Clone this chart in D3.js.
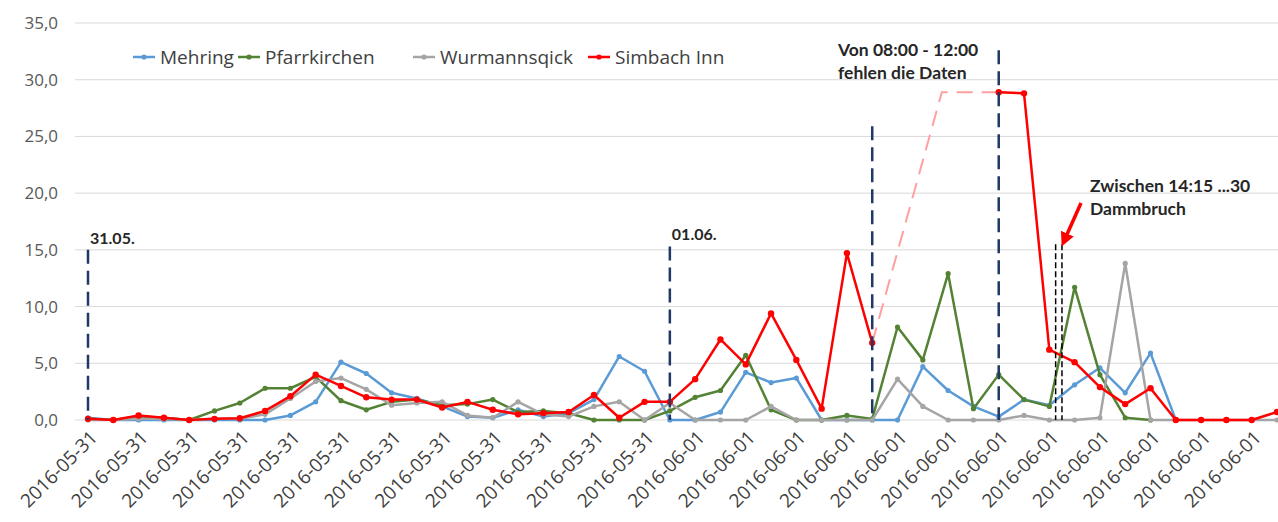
<!DOCTYPE html>
<html>
<head>
<meta charset="utf-8">
<script src="https://cdn.jsdelivr.net/npm/d3@7"></script>
<style>
  body { margin: 0; background: #fff; }
  svg text { font-family: "Open Sans", Lato, sans-serif; }
</style>
</head>
<body>
<div id="chart"></div>
<script>
// hourly values, 31.05. 00:00 ... 01.06. 23:00
var dates = d3.range(48).map(function(i){ return i < 24 ? '2016-05-31' : '2016-06-01'; });
var yTicks = [0, 5, 10, 15, 20, 25, 30, 35];

var mehring = [0.2, 0.0, 0.0, 0.0, 0.0, 0.0, 0.0, 0.0, 0.4, 1.6, 5.1, 4.1, 2.4, 1.9, 1.2, 0.3,
               0.2, 0.9, 0.3, 0.6, 1.8, 5.6, 4.3, 0.0, 0.0, 0.7, 4.2, 3.3, 3.7, 0.0, 0.0, 0.0,
               0.0, 4.7, 2.6, 1.2, 0.3, 1.8, 1.3, 3.1, 4.6, 2.4, 5.9, 0.0, null, null, null, null];
var pfarrkirchen = [0.1, 0.0, 0.3, 0.2, 0.0, 0.8, 1.5, 2.8, 2.8, 3.8, 1.7, 0.9, 1.6, 1.8, 1.3, 1.4,
               1.8, 0.7, 0.8, 0.6, 0.0, 0.0, 0.0, 0.8, 2.0, 2.6, 5.7, 0.9, 0.0, 0.0, 0.4, 0.1,
               8.2, 5.3, 12.9, 1.0, 4.0, 1.8, 1.2, 11.7, 4.0, 0.2, 0.0, null, null, null, null, null];
var wurmannsqick = [0.0, 0.0, 0.1, 0.1, 0.0, 0.1, 0.1, 0.5, 1.9, 3.4, 3.7, 2.7, 1.3, 1.5, 1.6, 0.4,
               0.2, 1.6, 0.5, 0.3, 1.2, 1.6, 0.0, 1.5, 0.0, 0.0, 0.0, 1.2, 0.0, 0.0, 0.0, 0.0,
               3.6, 1.2, 0.0, 0.0, 0.0, 0.4, 0.0, 0.0, 0.2, 13.8, 0.0, 0.0, 0.0, 0.0, 0.0, 0.0];
var simbach = [0.1, 0.0, 0.4, 0.2, 0.0, 0.1, 0.15, 0.8, 2.1, 4.0, 3.0, 2.0, 1.8, 1.8, 1.1, 1.6,
               0.9, 0.5, 0.6, 0.7, 2.2, 0.2, 1.6, 1.6, 3.6, 7.1, 4.9, 9.4, 5.3, 1.0, 14.7, 6.8,
               null, null, null, null, 28.9, 28.8, 6.2, 5.1, 2.9, 1.4, 2.8, 0.0, 0.0, 0.0, 0.0, 0.7];

var seriesNames = ['Mehring', 'Pfarrkirchen', 'Wurmannsqick', 'Simbach Inn'];
var seriesColors = ['#5b9bd5', '#548235', '#a5a5a5', '#ff0000'];

// annotations (x in hour index, y in value)
var missingLine = [[31, 6.8], [33.75, 28.9], [36, 28.9]];
var markers = [
  {x: 0, top: 15.0, label: '31.05.'},
  {x: 23, top: 15.3, label: '01.06.'},
  {x: 31, top: 25.9, label: null},
  {x: 36, top: 32.6, label: null}
];
var breachLines = [38.25, 38.5];

var width = 1278, height = 522,
    margin = {top: 23, right: 1, bottom: 102, left: 88};

var svg = d3.select('#chart').append('svg')
    .attr('width', width)
    .attr('height', height);

var x = d3.scaleLinear().domain([0, 47]).range([margin.left, width - margin.right]);
var y = d3.scaleLinear().domain([0, 35]).range([height - margin.bottom, margin.top]);

// grid + y labels
svg.append('g').selectAll('line.grid')
    .data(yTicks).enter().append('line')
    .attr('class', 'grid')
    .attr('x1', 75).attr('x2', width)
    .attr('y1', function(d){ return y(d); })
    .attr('y2', function(d){ return y(d); })
    .attr('stroke', '#d9d9d9').attr('stroke-width', 1);

svg.append('g').selectAll('text')
    .data(yTicks).enter().append('text')
    .attr('x', 58)
    .attr('y', function(d){ return y(d); })
    .attr('dy', '0.35em')
    .attr('text-anchor', 'end')
    .attr('fill', '#595959')
    .style('font-size', '17px')
    .text(function(d){ return d3.format('.1f')(d).replace('.', ','); });

// x labels, every second hour
var xlab = svg.append('g');
xlab.selectAll('text')
    .data(dates.map(function(d, i){ return {i: i, d: d}; }).filter(function(d){ return d.i % 2 === 0; }))
    .enter().append('text')
    .attr('transform', function(d){ return 'translate(' + (x(d.i) + 6) + ',' + (y(0) + 14) + ') rotate(-45)'; })
    .attr('text-anchor', 'end')
    .attr('dy', '0.35em')
    .attr('fill', '#404040')
    .style('font-size', '19px')
    .text(function(d){ return d.d; });

// missing data (dashed, light red)
svg.append('path')
    .datum(missingLine)
    .attr('d', d3.line().x(function(d){ return x(d[0]); }).y(function(d){ return y(d[1]); }))
    .attr('fill', 'none')
    .attr('stroke', '#ff9f9f')
    .attr('stroke-width', 2)
    .attr('stroke-dasharray', '16,9');

// series
var allSeries = [mehring, pfarrkirchen, wurmannsqick, simbach];
var line = d3.line()
    .defined(function(d){ return d != null; })
    .x(function(d, i){ return x(i); })
    .y(function(d){ return y(d); });

allSeries.forEach(function(vals, k){
  var g = svg.append('g');
  g.append('path')
    .datum(vals)
    .attr('d', line)
    .attr('fill', 'none')
    .attr('stroke', seriesColors[k])
    .attr('stroke-width', 2.5)
    .attr('stroke-linejoin', 'round');
  g.selectAll('circle')
    .data(vals.map(function(v, i){ return {i: i, v: v}; }).filter(function(d){ return d.v != null; }))
    .enter().append('circle')
    .attr('cx', function(d){ return x(d.i); })
    .attr('cy', function(d){ return y(d.v); })
    .attr('r', k === 3 ? 3.2 : 2.6)
    .attr('fill', seriesColors[k]);
});

// vertical markers
svg.append('g').selectAll('line')
    .data(markers).enter().append('line')
    .attr('x1', function(d){ return x(d.x); })
    .attr('x2', function(d){ return x(d.x); })
    .attr('y1', function(d){ return y(d.top); })
    .attr('y2', y(0))
    .attr('stroke', '#1f3864')
    .attr('stroke-width', 2.5)
    .attr('stroke-dasharray', '14,7');

svg.append('g').selectAll('text')
    .data(markers.filter(function(d){ return d.label; })).enter().append('text')
    .attr('x', function(d){ return x(d.x) + 2; })
    .attr('y', function(d){ return y(d.top) - 6; })
    .attr('fill', '#262626')
    .style('font-family', 'Lato, sans-serif')
    .style('font-size', '16px')
    .style('font-weight', 'bold')
    .text(function(d){ return d.label; });

svg.append('g').selectAll('line')
    .data(breachLines).enter().append('line')
    .attr('x1', function(d){ return x(d); })
    .attr('x2', function(d){ return x(d); })
    .attr('y1', y(15.5))
    .attr('y2', y(0))
    .attr('stroke', '#000')
    .attr('stroke-width', 1.5)
    .attr('stroke-dasharray', '6,3');

// annotation texts
function note(tx, ty, lines){
  var t = svg.append('text')
      .attr('x', tx).attr('y', ty)
      .attr('fill', '#262626')
      .style('font-family', 'Lato, sans-serif')
      .style('font-size', '17.5px')
      .style('font-weight', 'bold');
  lines.forEach(function(s, i){
    t.append('tspan').attr('x', tx).attr('dy', i ? 23 : 0).text(s);
  });
}
note(838, 56, ['Von 08:00 - 12:00', 'fehlen die Daten']);
note(1090, 192, ['Zwischen 14:15 ...30', 'Dammbruch']);

// red arrow
var defs = svg.append('defs');
defs.append('marker')
    .attr('id', 'arrow')
    .attr('viewBox', '0 0 10 10')
    .attr('refX', 5).attr('refY', 5)
    .attr('markerWidth', 4).attr('markerHeight', 4)
    .attr('orient', 'auto')
  .append('path')
    .attr('d', 'M0,0 L10,5 L0,10 Z')
    .attr('fill', '#ff0000');
svg.append('line')
    .attr('x1', 1081).attr('y1', 203)
    .attr('x2', x(38.6)).attr('y2', 240)
    .attr('stroke', '#ff0000')
    .attr('stroke-width', 3.5)
    .attr('marker-end', 'url(#arrow)');

// legend
var legend = svg.append('g');
var legX = [133, 238, 413, 588];
seriesNames.forEach(function(n, k){
  var gl = legend.append('g').attr('transform', 'translate(' + legX[k] + ',57)');
  gl.append('line').attr('x1', 0).attr('x2', 22)
    .attr('stroke', seriesColors[k]).attr('stroke-width', 2.5);
  gl.append('circle').attr('cx', 11).attr('r', 2.6).attr('fill', seriesColors[k]);
  gl.append('text').attr('x', 27).attr('dy', '0.35em')
    .attr('fill', '#404040')
    .style('font-size', '19px')
    .text(n);
});
</script>
</body>
</html>
